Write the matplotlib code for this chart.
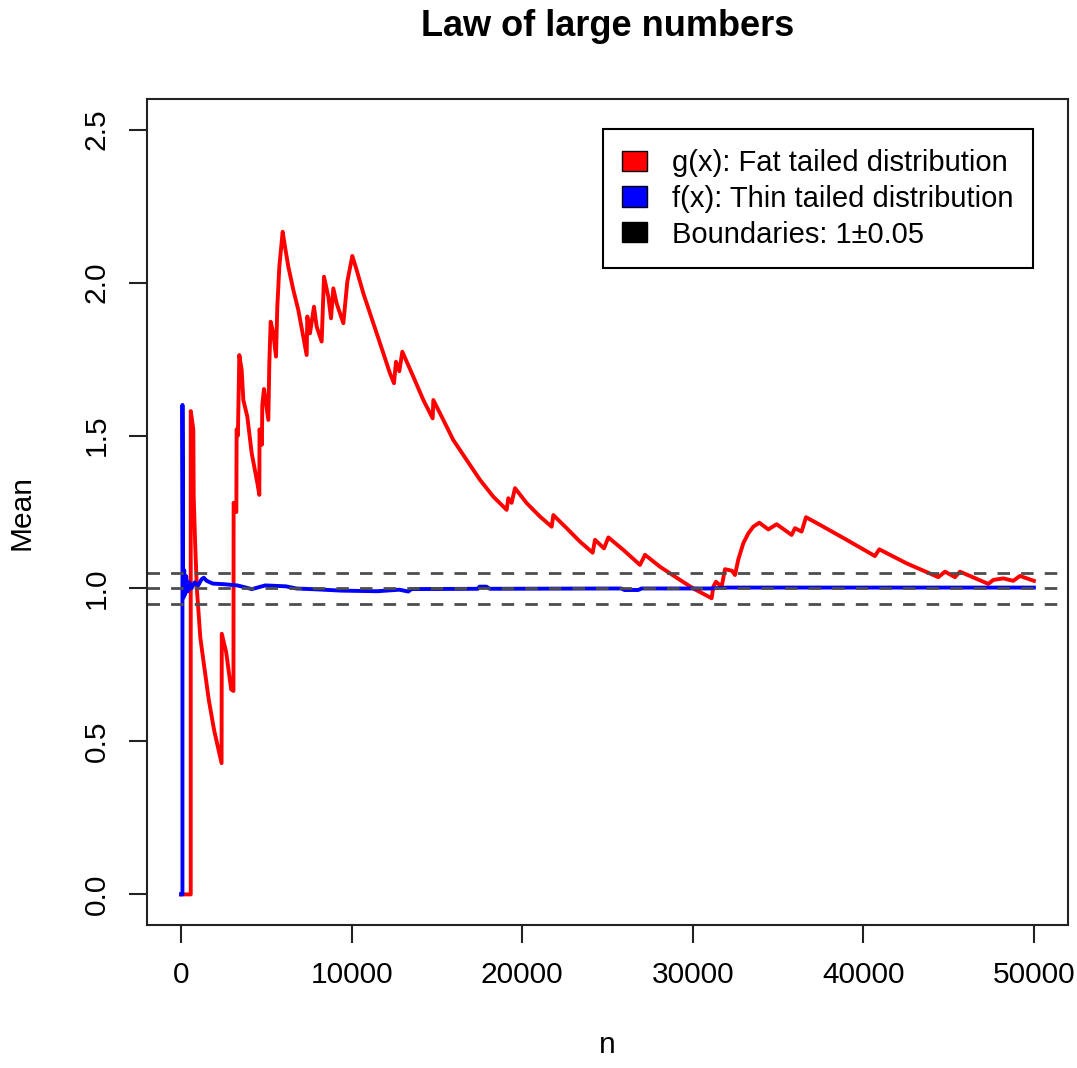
import matplotlib
matplotlib.use("Agg")
import matplotlib.pyplot as plt
from matplotlib.patches import Patch

plt.rcParams['font.family'] = ['Liberation Sans', 'DejaVu Sans']

# g(x): running mean of the fat tailed sample
n_fat = [1, 565, 565, 717, 740, 826, 926, 1126, 1330, 1630, 1935, 2373, 2385,
         2643, 2935, 3070, 3080, 3240, 3255, 3330, 3414, 3551, 3649, 3883, 4137,
         4470, 4587, 4600, 4740, 4760, 4860, 5115, 5173, 5252, 5408, 5564, 5642,
         5760, 5955, 6092, 6287, 6580, 6873, 7128, 7362, 7401, 7557, 7792, 7948,
         8241, 8378, 8632, 8789, 8925, 9121, 9512, 9746, 10039, 10293, 10684,
         11075, 11466, 11857, 12248, 12482, 12600, 12795, 12971, 13617, 14203,
         14750, 14789, 15375, 15961, 16743, 17525, 18306, 19088, 19186, 19380,
         19577, 20261, 21043, 21727, 21825, 22607, 23389, 24131, 24268, 24796,
         25050, 25929, 26906, 27200, 28079, 29251, 30032, 31107, 31205, 31360,
         31694, 31889, 32300, 32475, 32670, 32963, 33256, 33549, 33901, 34429,
         34917, 35797, 35992, 36382, 36638, 37458, 39022, 40681, 40935, 42542,
         44395, 44786, 45373, 45666, 47327, 47620, 48206, 48792, 49183, 50000]
mean_fat = [0, 0, 1.58, 1.52, 1.30, 1.143, 0.998, 0.840, 0.755, 0.634, 0.537,
            0.429, 0.852, 0.792, 0.670, 0.665, 1.28, 1.25, 1.52, 1.50, 1.763,
            1.714, 1.616, 1.562, 1.443, 1.345, 1.306, 1.52, 1.47, 1.60, 1.652,
            1.551, 1.736, 1.872, 1.834, 1.758, 1.921, 2.052, 2.166, 2.117, 2.052,
            1.976, 1.910, 1.834, 1.763, 1.889, 1.834, 1.921, 1.856, 1.807, 2.019,
            1.954, 1.883, 1.981, 1.932, 1.867, 2.003, 2.087, 2.041, 1.965, 1.900,
            1.834, 1.769, 1.703, 1.671, 1.741, 1.71, 1.774, 1.692, 1.616, 1.556,
            1.616, 1.551, 1.485, 1.420, 1.355, 1.300, 1.257, 1.295, 1.28, 1.328,
            1.279, 1.235, 1.202, 1.240, 1.197, 1.153, 1.117, 1.159, 1.131, 1.167,
            1.126, 1.077, 1.110, 1.071, 1.028, 1.000, 0.968, 1.006, 1.022, 1.006,
            1.063, 1.058, 1.044, 1.095, 1.148, 1.180, 1.202, 1.215, 1.193, 1.210,
            1.175, 1.197, 1.186, 1.233, 1.208, 1.159, 1.106, 1.128, 1.082, 1.037,
            1.055, 1.037, 1.055, 1.015, 1.028, 1.033, 1.025, 1.041, 1.025]

# f(x): running mean of the thin tailed sample
n_thin = [1, 80, 80, 110, 140, 180, 230, 300, 380, 480, 600, 800, 1000, 1200,
          1330, 1500, 1860, 2500, 3300, 4150, 4940, 6150, 6760, 8000, 9390,
          11500, 12800, 13320, 13500, 17400, 17500, 17900, 18100, 25800, 26000,
          26800, 27000, 31000, 32000, 50000]
mean_thin = [0, 0, 1.60, 1.08, 0.97, 1.06, 0.98, 1.04, 0.99, 1.02, 1.00, 1.02,
             1.01, 1.03, 1.035, 1.025, 1.016, 1.014, 1.010, 0.998, 1.010, 1.007,
             1.000, 0.997, 0.993, 0.991, 0.996, 0.990, 0.998, 0.999, 1.006, 1.006,
             0.999, 1.0, 0.995, 0.995, 1.0, 1.0, 1.003, 1.003]

bounds = [0.95, 1.0, 1.05]
labels = ["g(x): Fat tailed distribution", "f(x): Thin tailed distribution",
          "Boundaries: 1\u00b10.05"]

fig = plt.figure(figsize=(10.77, 10.68), dpi=100)
ax = fig.add_axes([147 / 1077, 1 - 925 / 1068, 921 / 1077, 826 / 1068])

ax.plot(n_fat, mean_fat, color='red', lw=2.8, solid_joinstyle='round')
ax.plot(n_thin, mean_thin, color='blue', lw=2.8, solid_joinstyle='round')
for b in bounds:
    ax.axhline(b, color='#4d4d4d', lw=2.0, linestyle=(0, (4.5, 4)))

ax.set_xlim(1 - 0.04 * 49999, 50000 + 0.04 * 49999)
ax.set_ylim(-0.1, 2.6)
ax.set_xticks([0, 10000, 20000, 30000, 40000, 50000])
ax.set_yticks([0.0, 0.5, 1.0, 1.5, 2.0, 2.5])
ax.set_yticklabels(["0.0", "0.5", "1.0", "1.5", "2.0", "2.5"])
ax.tick_params(length=13, width=1.5, colors='#222222', labelsize=21.5, pad=13,
               labelcolor='black')
ax.tick_params(axis='y', labelrotation=90)
for t in ax.get_yticklabels():
    t.set_va('center')
for s in ax.spines.values():
    s.set_linewidth(1.5)
    s.set_color('#222222')

ax.set_title("Law of large numbers", fontsize=26, fontweight='bold', pad=0,
             y=(925 - 26) / 826, va='center')
ax.set_xlabel("n", fontsize=21.5)
ax.set_ylabel("Mean", fontsize=21.5)
ax.xaxis.set_label_coords(0.5, (925 - 1045) / 826)
ax.xaxis.label.set_va('center')
ax.yaxis.set_label_coords((22 - 147) / 921, 0.5)
ax.yaxis.label.set_va('center')

handles = [Patch(facecolor='red', edgecolor='black'),
           Patch(facecolor='blue', edgecolor='black'),
           Patch(facecolor='black', edgecolor='black')]
leg = ax.legend(handles, labels, loc='upper right',
                bbox_to_anchor=((1033 - 147) / 921, (925 - 129) / 826),
                borderaxespad=0, fontsize=21, frameon=True, fancybox=False,
                framealpha=1, edgecolor='black', handlelength=0.83,
                handleheight=0.69, handletextpad=0.86, labelspacing=0.27,
                borderpad=0.68)
leg.get_frame().set_linewidth(1.5)

fig.savefig("out.png", dpi=100)
